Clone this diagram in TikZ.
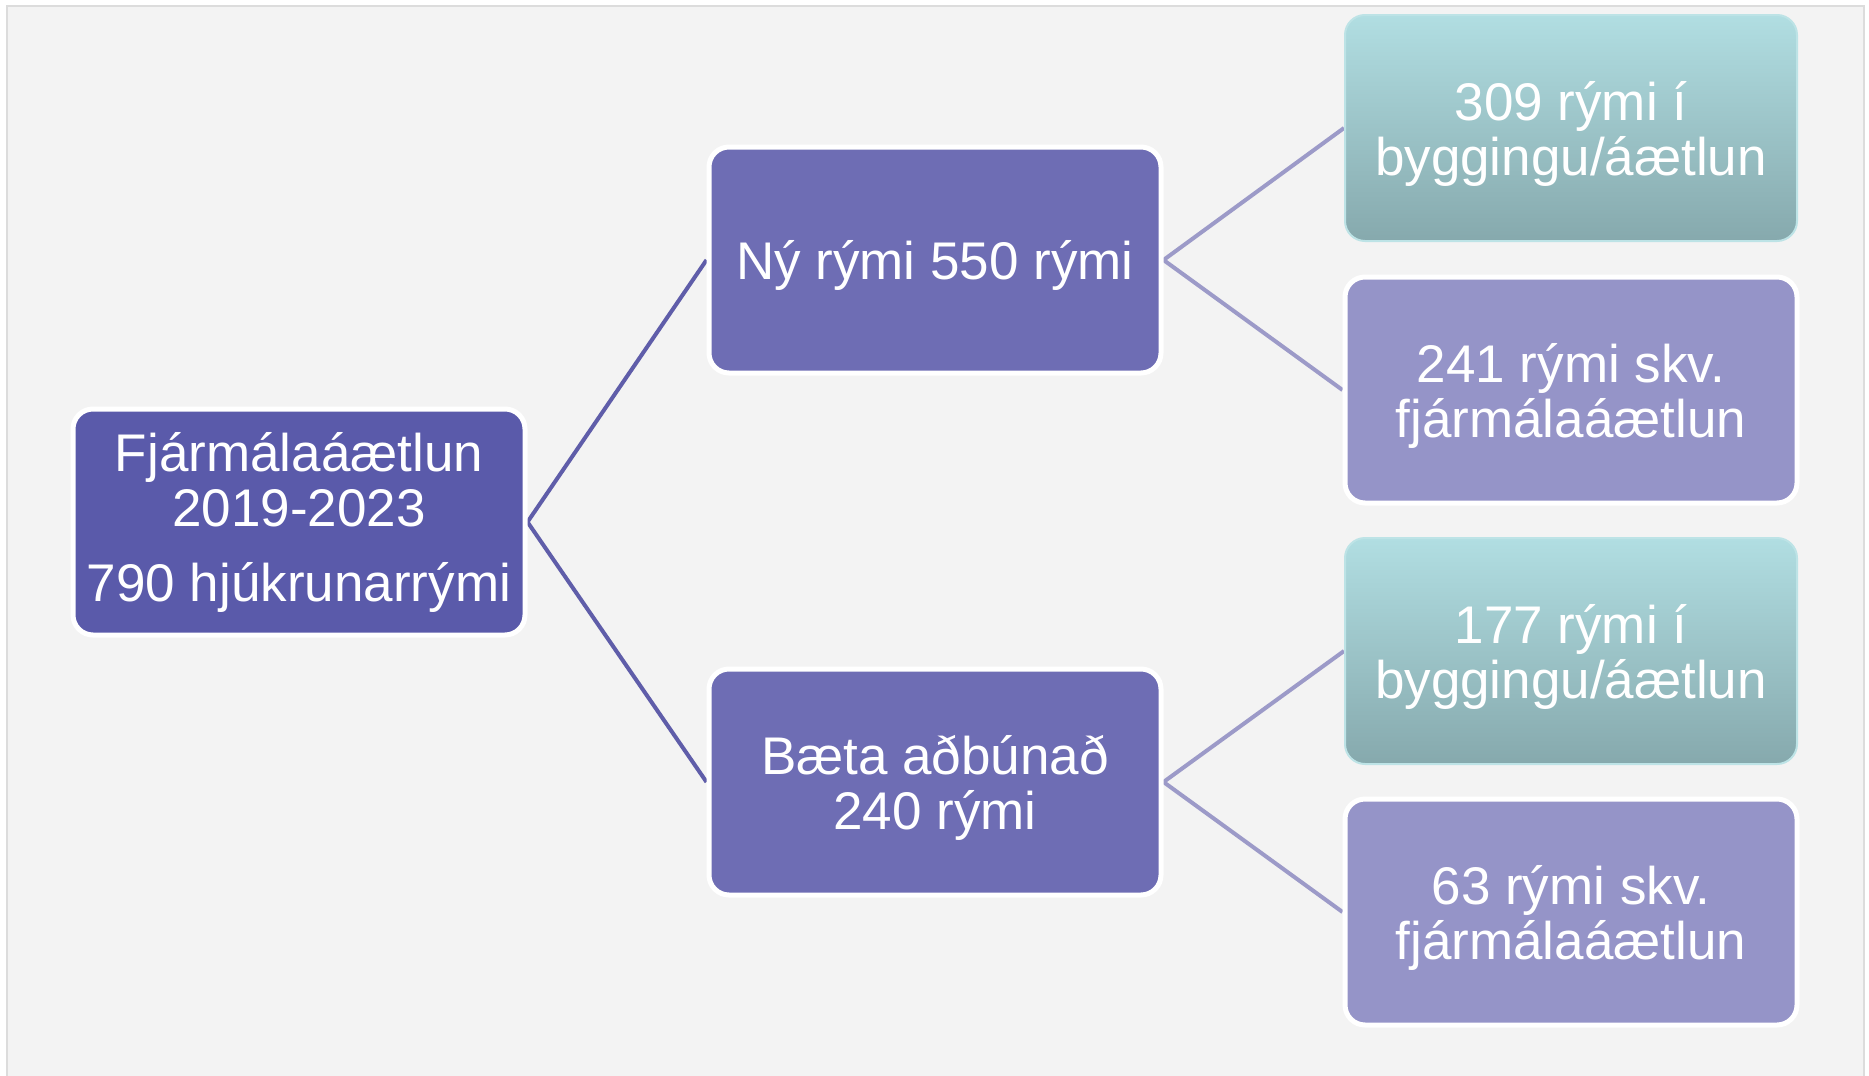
\documentclass[tikz,border=0pt]{standalone}
\usepackage{fontspec}
\setmainfont{Liberation Sans}
\pgfdeclarelayer{back}
\pgfdeclarelayer{mid}
\pgfsetlayers{back,mid,main}
\definecolor{panel}{HTML}{F3F3F3}
\definecolor{panelline}{HTML}{DCDCDC}
\definecolor{rootfill}{HTML}{5A5AAA}
\definecolor{midfill}{HTML}{6E6DB4}
\definecolor{leaffill}{HTML}{9594C8}
\definecolor{tealtop}{HTML}{B1DEE2}
\definecolor{tealmid}{HTML}{A6CED2}
\definecolor{tealbot}{HTML}{86A9AD}
\definecolor{tealline}{HTML}{BDE3E6}
\definecolor{conA}{HTML}{5F5DA9}
\definecolor{conB}{HTML}{9C9AC8}
\tikzset{
  basebox/.style={rounded corners=20pt, minimum width=452pt, minimum height=226pt,
    inner sep=0pt, align=center, text=white, font=\fontsize{53}{55}\selectfont},
  rootbox/.style={basebox, fill=rootfill, draw=white, line width=5pt},
  midbox/.style={basebox, text depth=0pt, fill=midfill, draw=white, line width=5pt},
  leafbox/.style={basebox, text depth=0pt, fill=leaffill, draw=white, line width=5pt},
  tealbox/.style={basebox, text depth=0pt, top color=tealtop, middle color=tealmid, bottom color=tealbot, draw=tealline, line width=2pt},
  linkA/.style={draw=conA, line width=4pt},
  linkB/.style={draw=conB, line width=4pt}
}
\begin{document}
\begin{tikzpicture}[x=1pt,y=-1pt]
\useasboundingbox (0,0) rectangle (1869,1076);
\begin{pgfonlayer}{back}
\fill[white] (0,0) rectangle (1869,1076);
\draw[fill=panel, draw=panelline, line width=2pt] (7,6) rectangle (1864,1090);
\end{pgfonlayer}
\node[rootbox] (root) at (299,522) {Fjármálaáætlun\\2019-2023\\[20pt]790 hjúkrunarrými};
\node[midbox] (new) at (935,260) {Ný rými 550 rými};
\node[midbox] (impr) at (935,782) {Bæta aðbúnað\\240 rými};
\node[tealbox] (a1) at (1571,128) {309 rými í\\byggingu/áætlun};
\node[leafbox] (a2) at (1571,390) {241 rými skv.\\fjármálaáætlun};
\node[tealbox] (b1) at (1571,651) {177 rými í\\byggingu/áætlun};
\node[leafbox] (b2) at (1571,912) {63 rými skv.\\fjármálaáætlun};
\begin{pgfonlayer}{mid}
\draw[linkA] (root.east) -- (new.west);
\draw[linkA] (root.east) -- (impr.west);
\draw[linkB] (new.east) -- (a1.west);
\draw[linkB] (new.east) -- (a2.west);
\draw[linkB] (impr.east) -- (b1.west);
\draw[linkB] (impr.east) -- (b2.west);
\end{pgfonlayer}
\end{tikzpicture}
\end{document}
